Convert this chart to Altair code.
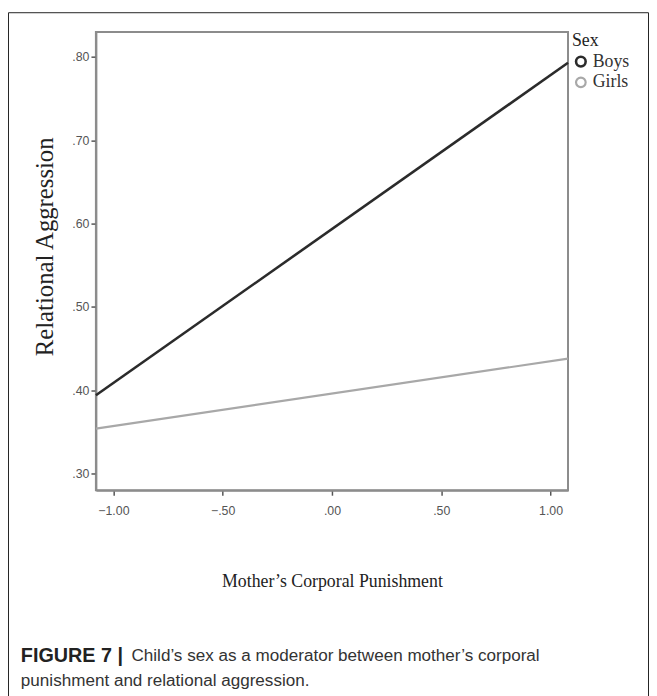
import altair as alt
import pandas as pd

# ---- data ----
sexes = ["Boys", "Girls"]
x_ends = [-1.08, 1.08]
boys_y = [0.394, 0.793]
girls_y = [0.354, 0.438]
y_ticks = [0.30, 0.40, 0.50, 0.60, 0.70, 0.80]
x_ticks = [-1.0, -0.5, 0.0, 0.5, 1.0]
x_domain = [-1.08, 1.08]
y_domain = [0.28, 0.83]
caption_bold = ["FIGURE 7 |"]
caption_text = ["Child’s sex as a moderator between mother’s corporal",
                "punishment and relational aggression."]

rows = []
for s, ys in zip(sexes, [boys_y, girls_y]):
    for x, y in zip(x_ends, ys):
        rows.append({"Sex": s, "x": x, "y": y})
df = pd.DataFrame(rows)

W, H = 478, 464
PL, PT, PR, PB = 89, 20, 82, 204

label_expr = "replace(format(datum.value, '.2f'), '0.', '.')"

lines = alt.Chart(df).mark_line(strokeCap="butt").encode(
    x=alt.X("x:Q",
            scale=alt.Scale(domain=x_domain, nice=False, zero=False),
            axis=alt.Axis(values=x_ticks, labelExpr=label_expr, grid=False,
                          title="Mother’s Corporal Punishment",
                          titleFontSize=18,
                          labelPadding=10, titlePadding=56)),
    y=alt.Y("y:Q",
            scale=alt.Scale(domain=y_domain, nice=False, zero=False),
            axis=alt.Axis(values=y_ticks, labelExpr=label_expr, grid=False,
                          title="Relational Aggression",
                          titleFontSize=25, titleY=217,
                          labelPadding=2, titlePadding=15)),
    color=alt.Color("Sex:N",
                    scale=alt.Scale(domain=sexes, range=["#2b2b2b", "#a8a8a8"]),
                    legend=alt.Legend(title="Sex", orient="none",
                                      legendX=W + 4, legendY=0,
                                      symbolType="circle",
                                      symbolFillColor="transparent",
                                      symbolStrokeWidth=2.2, symbolSize=95,
                                      rowPadding=0, labelOffset=3,
                                      titlePadding=3)),
    strokeWidth=alt.StrokeWidth("Sex:N",
                                scale=alt.Scale(domain=sexes, range=[2.6, 2.2]),
                                legend=None),
)

frame = alt.Chart(pd.DataFrame({"a": [0]})).mark_rect(
    fill=None, stroke="#222222", strokeWidth=1
).encode(x=alt.value(-PL + 0.5), x2=alt.value(W + PR - 0.5),
         y=alt.value(-PT + 0.5), y2=alt.value(H + PB + 20))

cap_df = pd.DataFrame({"t": caption_bold})
cap_bold = alt.Chart(cap_df).mark_text(
    align="left", baseline="middle", font="Liberation Sans", fontSize=20,
    fontWeight="bold", color="#222222"
).encode(text="t:N", x=alt.value(-76), y=alt.value(632))

cap_df2 = pd.DataFrame({"t": caption_text, "i": [0, 1]})
cap1 = alt.Chart(cap_df2).transform_filter("datum.i == 0").mark_text(
    align="left", baseline="middle", font="Liberation Sans", fontSize=17.3,
    color="#333333"
).encode(text="t:N", x=alt.value(36), y=alt.value(632))
cap2 = alt.Chart(cap_df2).transform_filter("datum.i == 1").mark_text(
    align="left", baseline="middle", font="Liberation Sans", fontSize=17.3,
    color="#333333"
).encode(text="t:N", x=alt.value(-76), y=alt.value(657))

chart = alt.layer(frame, lines, cap_bold, cap1, cap2).properties(
    width=W, height=H,
    autosize=alt.AutoSizeParams(type="none"),
    padding={"left": PL, "top": PT, "right": PR, "bottom": PB},
    background="white",
).configure_view(
    stroke="#8c8c8c", strokeWidth=2
).configure_axis(
    domainColor="#8c8c8c", domainWidth=2,
    tickColor="#555555", tickWidth=1.5, tickSize=5,
    labelFont="Liberation Sans Narrow, Liberation Sans", labelFontSize=12.5,
    labelColor="#555555",
    titleFont="Liberation Serif", titleFontWeight="normal",
    titleColor="#222222",
).configure_legend(
    titleFont="Liberation Serif", titleFontSize=18, titleFontWeight="normal",
    titleColor="#222222",
    labelFont="Liberation Serif", labelFontSize=18, labelColor="#333333",
)

chart.save("out.html", embed_options={"renderer": "svg", "actions": False})
